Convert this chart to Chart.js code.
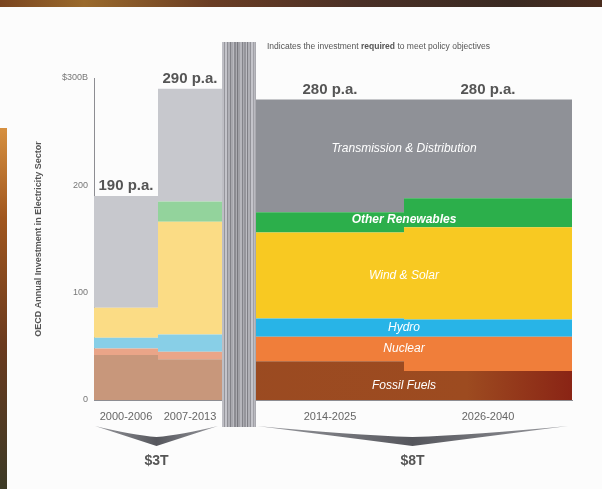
<!DOCTYPE html>
<html>
<head>
<meta charset="utf-8">
<title>OECD electricity sector investment</title>
<script src="https://cdn.jsdelivr.net/npm/chart.js@4.4.1/dist/chart.umd.min.js"></script>
<style>
  html, body { margin: 0; padding: 0; }
  body { width: 602px; height: 489px; overflow: hidden; position: relative; background: #fcfcfc; }
  .topband { position: absolute; left: 0; top: 0; width: 602px; height: 7px;
    background: linear-gradient(90deg, #7a4520, #9a6a2c 14%, #6a3d24 35%, #4a3026 60%, #3a2a22 85%, #4a2c1e); }
  .edge { position: absolute; left: 0; top: 128px; width: 7px; height: 361px;
    background: linear-gradient(180deg, #d69040, #a0561e 25%, #6a3a1e 60%, #3c3a26); }
  canvas { position: absolute; left: 0; top: 0; }
</style>
</head>
<body>
<div class="topband"></div>
<div class="edge"></div>
<canvas id="chart" width="602" height="489"></canvas>
<script>
// annual investment, $bn per year
const periods = ['2000-2006', '2007-2013', '2014-2025', '2026-2040'];
const totals = [190, 290, 280, 280];
const fossilFuels = [42, 38, 36, 27];
const nuclear = [6, 7, 23, 32];
const hydro = [10, 16, 17, 16];
const windSolar = [28, 105, 80, 86];
const otherRenewables = [0, 19, 19, 27];
const transmission = [104, 105, 105, 92];
const yTicks = [0, 100, 200, 300];
const spendGroups = ['$3T', '$8T'];

// column widths on the x scale: two historic bars, the divider, two outlook bars
const colWidths = [64, 64, 34, 148, 168];
const edges = colWidths.reduce((acc, w) => { acc.push(acc[acc.length - 1] + w); return acc; }, [0]);
const barSlots = [0, 1, 3, 4];
const barCenter = i => (edges[barSlots[i]] + edges[barSlots[i] + 1]) / 2;

const FONT = "'Liberation Sans', Arial, Helvetica, sans-serif";

const series = [
  { label: 'Fossil Fuels', values: fossilFuels, colors: ['#c8977b', '#9c4b22'] },
  { label: 'Nuclear', values: nuclear, colors: ['#eaa588', '#f07e3a'] },
  { label: 'Hydro', values: hydro, colors: ['#88cfe7', '#28b4e7'] },
  { label: 'Wind & Solar', values: windSolar, colors: ['#fbdc85', '#f8c922'] },
  { label: 'Other Renewables', values: otherRenewables, colors: ['#93d39c', '#2caf4b'] },
  { label: 'Transmission & Distribution', values: transmission, colors: ['#c7c8cd', '#8f9197'] },
];

// one step per bar; the second bar's value runs on under the divider
const stepPoints = vals => {
  const ys = [vals[0], vals[1], vals[1], vals[2], vals[3], vals[3]];
  return edges.map((x, i) => ({ x, y: ys[i] }));
};

function fossilGradient(chart, base) {
  const a = chart.chartArea;
  if (!a) return base;
  const g = chart.ctx.createLinearGradient(a.left, 0, a.right, 0);
  g.addColorStop(0, '#994a22');
  g.addColorStop(0.78, '#9d4b20');
  g.addColorStop(1, '#8a2415');
  return g;
}

const datasets = series.map((s, i) => ({
  label: s.label,
  data: stepPoints(s.values),
  stepped: true,
  fill: i === 0 ? 'origin' : '-1',
  borderWidth: 0,
  borderColor: 'transparent',
  pointRadius: 0,
  backgroundColor: s.colors[1],
  segment: {
    backgroundColor: ctx => {
      if (ctx.p0DataIndex < 2) return s.colors[0];
      return i === 0 ? fossilGradient(ctx.chart, s.colors[1]) : s.colors[1];
    }
  }
}));

// striped divider between history and outlook, with its key text
const divider = {
  id: 'divider',
  afterDatasetsDraw(chart) {
    const { ctx, scales: { x } } = chart;
    const x0 = Math.round(x.getPixelForValue(edges[2]));
    const x1 = Math.round(x.getPixelForValue(edges[3]));
    const tones = [190, 190, 150, 196, 196, 142, 176, 176, 130, 168, 168, 186, 140, 140, 172,
                   120, 160, 160, 182, 182, 132, 170, 150, 150, 188, 128, 176, 176, 146, 196,
                   196, 160, 186, 170];
    ctx.save();
    for (let px = x0, k = 0; px < x1; px++, k++) {
      const t = tones[k % tones.length];
      ctx.fillStyle = `rgb(${t},${t},${t + 6})`;
      ctx.fillRect(px, 42, 1, 385);
    }
    ctx.textBaseline = 'middle';
    ctx.fillStyle = '#555';
    let tx = x1 + 11;
    const parts = [['Indicates the investment ', ''], ['required', 'bold '], [' to meet policy objectives', '']];
    for (const [txt, w] of parts) {
      ctx.font = `${w}8.5px ${FONT}`;
      ctx.fillText(txt, tx, 47);
      tx += ctx.measureText(txt).width;
    }
    ctx.restore();
  }
};

// "p.a." totals above bars and the category names inside the outlook bars
const barText = {
  id: 'barText',
  afterDatasetsDraw(chart) {
    const { ctx, scales: { x, y } } = chart;
    ctx.save();
    ctx.textAlign = 'center';
    ctx.textBaseline = 'middle';
    ctx.fillStyle = '#555';
    ctx.font = `bold 15px ${FONT}`;
    totals.forEach((t, i) => {
      ctx.fillText(`${t} p.a.`, x.getPixelForValue(barCenter(i)), y.getPixelForValue(t) - 10);
    });

    // each name sits in the band shared by both outlook bars
    const lx = x.getPixelForValue(edges[4]);
    ctx.fillStyle = '#fff';
    const base = [0, 0, 0, 0];
    series.forEach(s => {
      const lo = Math.max(base[2], base[3]);
      const hi = Math.min(base[2] + s.values[2], base[3] + s.values[3]);
      ctx.font = `italic ${s.label === 'Other Renewables' ? 'bold ' : ''}12px ${FONT}`;
      ctx.fillText(s.label, lx, y.getPixelForValue((lo + hi) / 2));
      s.values.forEach((val, b) => { base[b] += val; });
    });
    ctx.restore();
  }
};

// braces under the two groups of bars with their cumulative totals
const braces = {
  id: 'braces',
  afterDraw(chart) {
    const { ctx, scales: { x } } = chart;
    const groups = [[edges[0], edges[2]], [edges[3], edges[5]]];
    ctx.save();
    groups.forEach(([a, b], g) => {
      const x0 = x.getPixelForValue(a) + 1;
      const x1 = x.getPixelForValue(b) - 4;
      const xm = (x0 + x1) / 2;
      const grad = ctx.createLinearGradient(x0, 0, x1, 0);
      grad.addColorStop(0, '#9a9ba0');
      grad.addColorStop(0.5, '#55565c');
      grad.addColorStop(1, '#9a9ba0');
      ctx.fillStyle = grad;
      ctx.beginPath();
      ctx.moveTo(x0, 426);
      ctx.quadraticCurveTo(x0 + (xm - x0) * 0.6, 435, xm, 437);
      ctx.quadraticCurveTo(x1 - (x1 - xm) * 0.6, 435, x1, 426);
      ctx.quadraticCurveTo(xm + (x1 - xm) * 0.35, 439, xm, 446);
      ctx.quadraticCurveTo(xm - (xm - x0) * 0.35, 439, x0, 426);
      ctx.closePath();
      ctx.fill();

      ctx.fillStyle = '#555';
      ctx.font = `bold 14px ${FONT}`;
      ctx.textAlign = 'center';
      ctx.textBaseline = 'middle';
      ctx.fillText(spendGroups[g], xm, 461);
    });
    ctx.restore();
  }
};

new Chart(document.getElementById('chart'), {
  type: 'line',
  data: { datasets },
  plugins: [divider, barText, braces],
  options: {
    responsive: false,
    animation: false,
    devicePixelRatio: 1,
    layout: { padding: { left: 33, right: 30, top: 78, bottom: 64 } },
    plugins: {
      legend: { display: false },
      tooltip: { enabled: false },
      filler: { propagate: false }
    },
    scales: {
      x: {
        type: 'linear',
        min: edges[0],
        max: edges[edges.length - 1],
        grid: { display: false, drawTicks: false },
        border: { display: true, color: '#8d8d92', width: 1 },
        afterBuildTicks: s => { s.ticks = periods.map((p, i) => ({ value: barCenter(i) })); },
        afterFit: s => { s.height = 25; },
        ticks: {
          autoSkip: false,
          maxRotation: 0,
          padding: 10,
          color: '#666',
          font: { family: FONT, size: 11 },
          callback: (v, i) => periods[i]
        }
      },
      y: {
        min: 0,
        max: 300,
        stacked: true,
        grid: { display: false, drawTicks: false },
        border: { display: true, color: '#8d8d92', width: 1 },
        afterBuildTicks: s => { s.ticks = yTicks.map(v => ({ value: v })); },
        afterFit: s => { s.width = 61; },
        ticks: {
          padding: 6,
          color: '#777',
          font: { family: FONT, size: 9 },
          callback: v => (v === 300 ? '$300B' : v)
        },
        title: {
          display: true,
          text: 'OECD Annual Investment in Electricity Sector',
          color: '#555',
          padding: 0,
          font: { family: FONT, size: 9, weight: 'bold' }
        }
      }
    }
  }
});
</script>
</body>
</html>
